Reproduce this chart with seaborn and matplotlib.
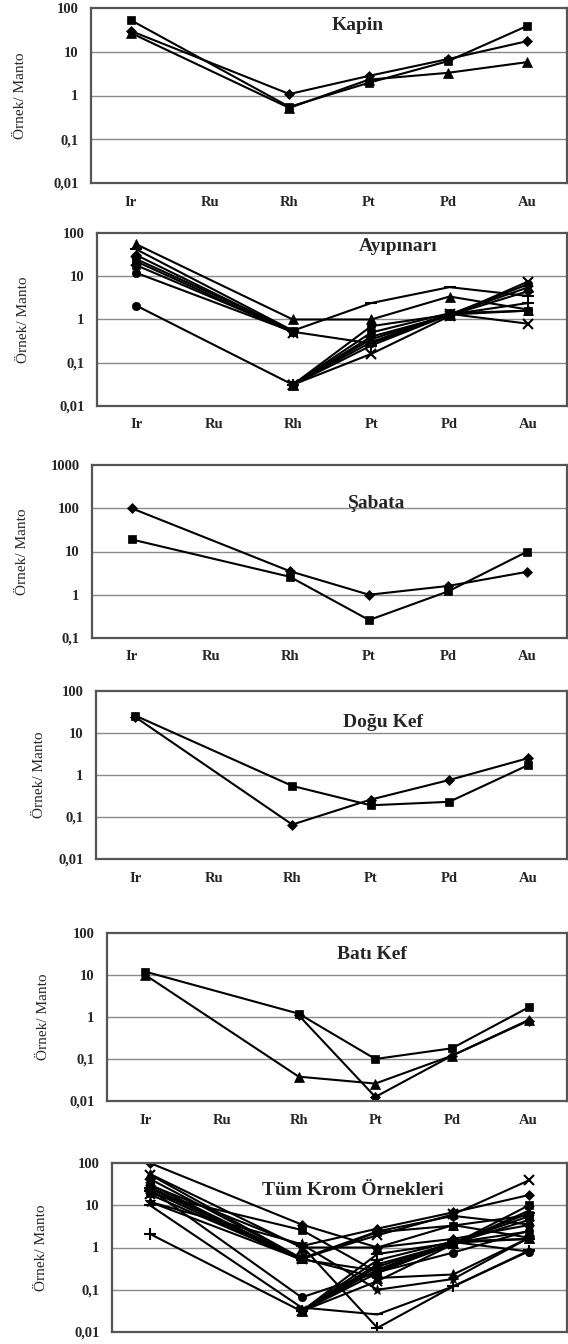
import numpy as np
import pandas as pd
import matplotlib
matplotlib.use("Agg")
import matplotlib.pyplot as plt
import seaborn as sns

nan = np.nan

ELEMENTS = ["Ir", "Ru", "Rh", "Pt", "Pd", "Au"]
Y_LABEL = "Örnek/ Manto"

# ---- Kapin ----
KAPIN_TITLE = "Kapin"
kapin_square = [53, nan, 0.55, 1.95, 6.1, 39]
kapin_diamond = [30, nan, 1.08, 2.8, 6.8, 17.5]
kapin_triangle = [27, nan, 0.52, 2.3, 3.3, 5.8]

# ---- Ayipinari ----
AYI_TITLE = "Ayıpınarı"
ayi_1 = [55, nan, 1.0, 1.0, 3.4, 1.7]
ayi_2 = [42, nan, 0.55, 2.4, 5.6, 3.5]
ayi_3 = [12, nan, 0.52, 0.28, 1.3, 1.6]
ayi_4 = [2.1, nan, 0.031, 0.7, 1.3, 6.5]
ayi_5 = [nan, nan, 0.031, 0.5, 1.4, 1.6]
ayi_6 = [nan, nan, 0.031, 0.16, 1.2, 7.5]
ayi_7 = [nan, nan, 0.031, 0.4, 1.25, 4.5]
ayi_8 = [nan, nan, 0.031, 0.35, 1.3, 5.5]
ayi_9 = [nan, nan, 0.031, 0.25, 1.3, 2.4]
ayi_10 = [nan, nan, 0.031, 0.3, 1.35, 0.8]
ayi_11 = [31, nan, 0.52, nan, nan, nan]
ayi_12 = [25, nan, 0.55, nan, nan, nan]
ayi_13 = [22, nan, 0.5, nan, nan, nan]
ayi_14 = [18, nan, 0.52, nan, nan, nan]

# ---- Sabata ----
SAB_TITLE = "Şabata"
sab_diamond = [100, nan, 3.5, 1.0, 1.6, 3.4]
sab_square = [19, nan, 2.6, 0.26, 1.2, 10]

# ---- Dogu Kef ----
DOGU_TITLE = "Doğu Kef"
dogu_square = [26, nan, 0.55, 0.19, 0.23, 1.7]
dogu_diamond = [24, nan, 0.066, 0.26, 0.76, 2.5]

# ---- Bati Kef ----
BATI_TITLE = "Batı Kef"
bati_square = [12, nan, 1.2, 0.1, 0.18, 1.7]
bati_diamond = [nan, nan, 1.1, 0.0125, 0.12, 0.82]
bati_triangle = [10, nan, 0.038, 0.026, 0.12, 0.85]

ALL_TITLE = "Tüm Krom Örnekleri"

W, H = 568, 1344


def rect(l, t, r, b):
    return [l / W, 1 - b / H, (r - l) / W, (b - t) / H]


sns.set_style("white")
plt.rcParams["font.family"] = ["Liberation Serif", "DejaVu Serif"]

fig = plt.figure(figsize=(W / 100, H / 100), dpi=100)

panels = [
    dict(box=(91, 8, 567, 183), ylim=(0.01, 100), title=KAPIN_TITLE, tpos=(0.56, 0.90), labx=27,
         series=[kapin_square, kapin_diamond, kapin_triangle], markers=["s", "D", "^"], xlabels=True),
    dict(box=(97, 233, 567, 406), ylim=(0.01, 100), title=AYI_TITLE, tpos=(0.64, 0.92), labx=30,
         series=[ayi_1, ayi_2, ayi_3, ayi_4, ayi_5, ayi_6, ayi_7, ayi_8, ayi_9, ayi_10,
                 ayi_11, ayi_12, ayi_13, ayi_14],
         markers=["^", "_", "o", "o", "s", "x", "D", "^", "+", "x", "D", "s", "x", "s"], xlabels=True),
    dict(box=(92, 465, 567, 638), ylim=(0.1, 1000), title=SAB_TITLE, tpos=(0.60, 0.78), labx=29,
         series=[sab_diamond, sab_square], markers=["D", "s"], xlabels=True),
    dict(box=(96, 691, 567, 859), ylim=(0.01, 100), title=DOGU_TITLE, tpos=(0.61, 0.81), labx=46,
         series=[dogu_square, dogu_diamond], markers=["s", "D"], xlabels=True),
    dict(box=(107, 933, 567, 1101), ylim=(0.01, 100), title=BATI_TITLE, tpos=(0.576, 0.87), labx=50,
         series=[bati_square, bati_diamond, bati_triangle], markers=["s", "D", "^"], xlabels=True),
]

all_series = []
for p in panels:
    all_series += p["series"]
all_markers = ["x", "D", "s", "^", "o", "*", "+", "_"]
panels.append(dict(box=(112, 1163, 567, 1332), ylim=(0.01, 100), title=ALL_TITLE, tpos=(0.53, 0.84), labx=48,
                   series=all_series,
                   markers=[all_markers[i % len(all_markers)] for i in range(len(all_series))],
                   xlabels=False))

positions = np.arange(len(ELEMENTS))
MSIZE = {"s": 6, "D": 5.5, "^": 7, "o": 6, "x": 7, "+": 8, "_": 8, "*": 8}

for p in panels:
    l, t, r, b = p["box"]
    ax = fig.add_axes(rect(l, t, r, b))
    ax.set_yscale("log")
    for vals, m in zip(p["series"], p["markers"]):
        df = pd.DataFrame({"pos": positions, "val": vals}).dropna()
        sns.lineplot(data=df, x="pos", y="val", ax=ax, color="black", lw=1.5,
                     marker=m, markersize=MSIZE[m],
                     markeredgewidth=1.5 if m in ("x", "+", "_") else 0.5,
                     markeredgecolor="black", markerfacecolor="black", sort=False,
                     estimator=None, legend=False)
    ax.set_xlim(-0.5, len(ELEMENTS) - 0.5)
    ax.set_ylim(*p["ylim"])
    lo, hi = p["ylim"]
    decades = [10.0 ** k for k in range(int(round(np.log10(lo))), int(round(np.log10(hi))) + 1)]
    ax.set_yticks(decades)
    ax.set_yticklabels([("%g" % d).replace(".", ",") for d in decades])
    ax.yaxis.set_minor_locator(matplotlib.ticker.NullLocator())
    ax.grid(False)
    for d in decades[1:-1]:
        ax.axhline(d, color="#8a8a8a", lw=1.0, zorder=0)
    ax.set_xticks(np.arange(-0.5, len(ELEMENTS) + 0.5, 1.0))
    ax.set_xticklabels([])
    ax.set_xticks(positions, minor=True)
    if p["xlabels"]:
        ax.set_xticklabels(ELEMENTS, minor=True)
    ax.tick_params(axis="x", which="major", direction="out", length=4, width=1, color="#555555")
    ax.tick_params(axis="x", which="minor", length=0, pad=9, labelsize=10.5)
    ax.tick_params(axis="y", which="major", direction="out", length=4, width=1, color="#555555",
                   labelsize=10.5, pad=5)
    for lbl in ax.get_xticklabels(minor=True) + ax.get_yticklabels():
        lbl.set_fontweight("bold")
    ax.set_xlabel("")
    ax.set_ylabel(Y_LABEL, fontsize=11)
    ax.yaxis.set_label_coords((p["labx"] - l) / (r - l), 0.5)
    for s in ax.spines.values():
        s.set_color("#555555")
        s.set_linewidth(1.6)
    ax.text(p["tpos"][0], p["tpos"][1], p["title"], transform=ax.transAxes, ha="center",
            va="center", fontsize=14, fontweight="bold")

fig.savefig("out.png", dpi=100)
